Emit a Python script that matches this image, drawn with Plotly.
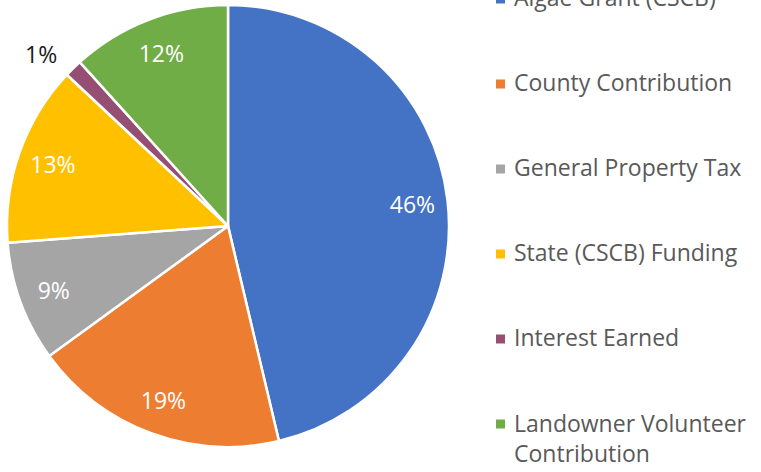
import plotly.graph_objects as go

labels = ["Algae Grant (CSCB)", "County Contribution", "General Property Tax",
          "State (CSCB) Funding", "Interest Earned", "Landowner Volunteer Contribution"]
legend_labels = ["Algae Grant (CSCB)", "County Contribution", "General Property Tax",
                 "State (CSCB) Funding", "Interest Earned", "Landowner Volunteer<br>Contribution"]
values = [46.3, 18.7, 8.8, 13.2, 1.3, 11.7]
colors = ["#4472C4", "#ED7D31", "#A5A5A5", "#FFC000", "#954F72", "#70AD47"]
inside_label = [True, True, True, True, False, True]

FONT = "Open Sans"
DOMAIN = dict(x=[7/761, 449/761], y=[25/472, 467/472])
W, H = 761, 472

fig = go.Figure()
# base pie: coloured slices
fig.add_trace(go.Pie(
    labels=labels, values=values, sort=False, direction="clockwise", rotation=0,
    marker=dict(colors=colors, line=dict(color="white", width=2.5)),
    textposition="none", domain=DOMAIN, showlegend=False,
    hoverinfo="label+percent",
))
# overlay ring (transparent) used only to place percentage labels further out
fig.add_trace(go.Pie(
    labels=labels, values=values, sort=False, direction="clockwise", rotation=0,
    hole=0.68,
    marker=dict(colors=["rgba(0,0,0,0)"] * len(values), line=dict(width=0)),
    texttemplate="%{percent:.0%}",
    textposition=["inside" if f else "none" for f in inside_label],
    insidetextorientation="horizontal",
    textfont=dict(family=FONT, size=23, color="white"),
    domain=DOMAIN, showlegend=False, hoverinfo="skip",
))

total = sum(values)
annotations = []
shapes = []
# outside label for the small slice
for v, f in zip(values, inside_label):
    if not f:
        annotations.append(dict(
            x=41/W, y=1 - 54.5/H, xref="paper", yref="paper",
            text=f"{round(v / total * 100)}%", showarrow=False,
            xanchor="center", yanchor="middle",
            font=dict(family=FONT, size=23, color="#1a1a1a")))

# legend (overflowing the top of the canvas, as in the reference)
first_center = -3.0
step = 85.0
for i, (lab, col) in enumerate(zip(legend_labels, colors)):
    yc = first_center + i * step
    nlines = lab.count("<br>") + 1
    ytxt = yc + (nlines - 1) * 16
    annotations.append(dict(
        x=512/W, y=1 - ytxt/H, xref="paper", yref="paper",
        text=lab, showarrow=False, xanchor="left", yanchor="middle", align="left",
        font=dict(family=FONT, size=23, color="#595959")))
    sy = yc + 2
    shapes.append(dict(
        type="rect", xref="paper", yref="paper",
        x0=496/W, x1=505/W, y0=1 - (sy - 4.5)/H, y1=1 - (sy + 4.5)/H,
        fillcolor=col, line=dict(width=0)))

fig.update_layout(
    width=W, height=H,
    margin=dict(l=0, r=0, t=0, b=0),
    paper_bgcolor="white", plot_bgcolor="white",
    annotations=annotations, shapes=shapes,
)

fig.write_html("out.html")
